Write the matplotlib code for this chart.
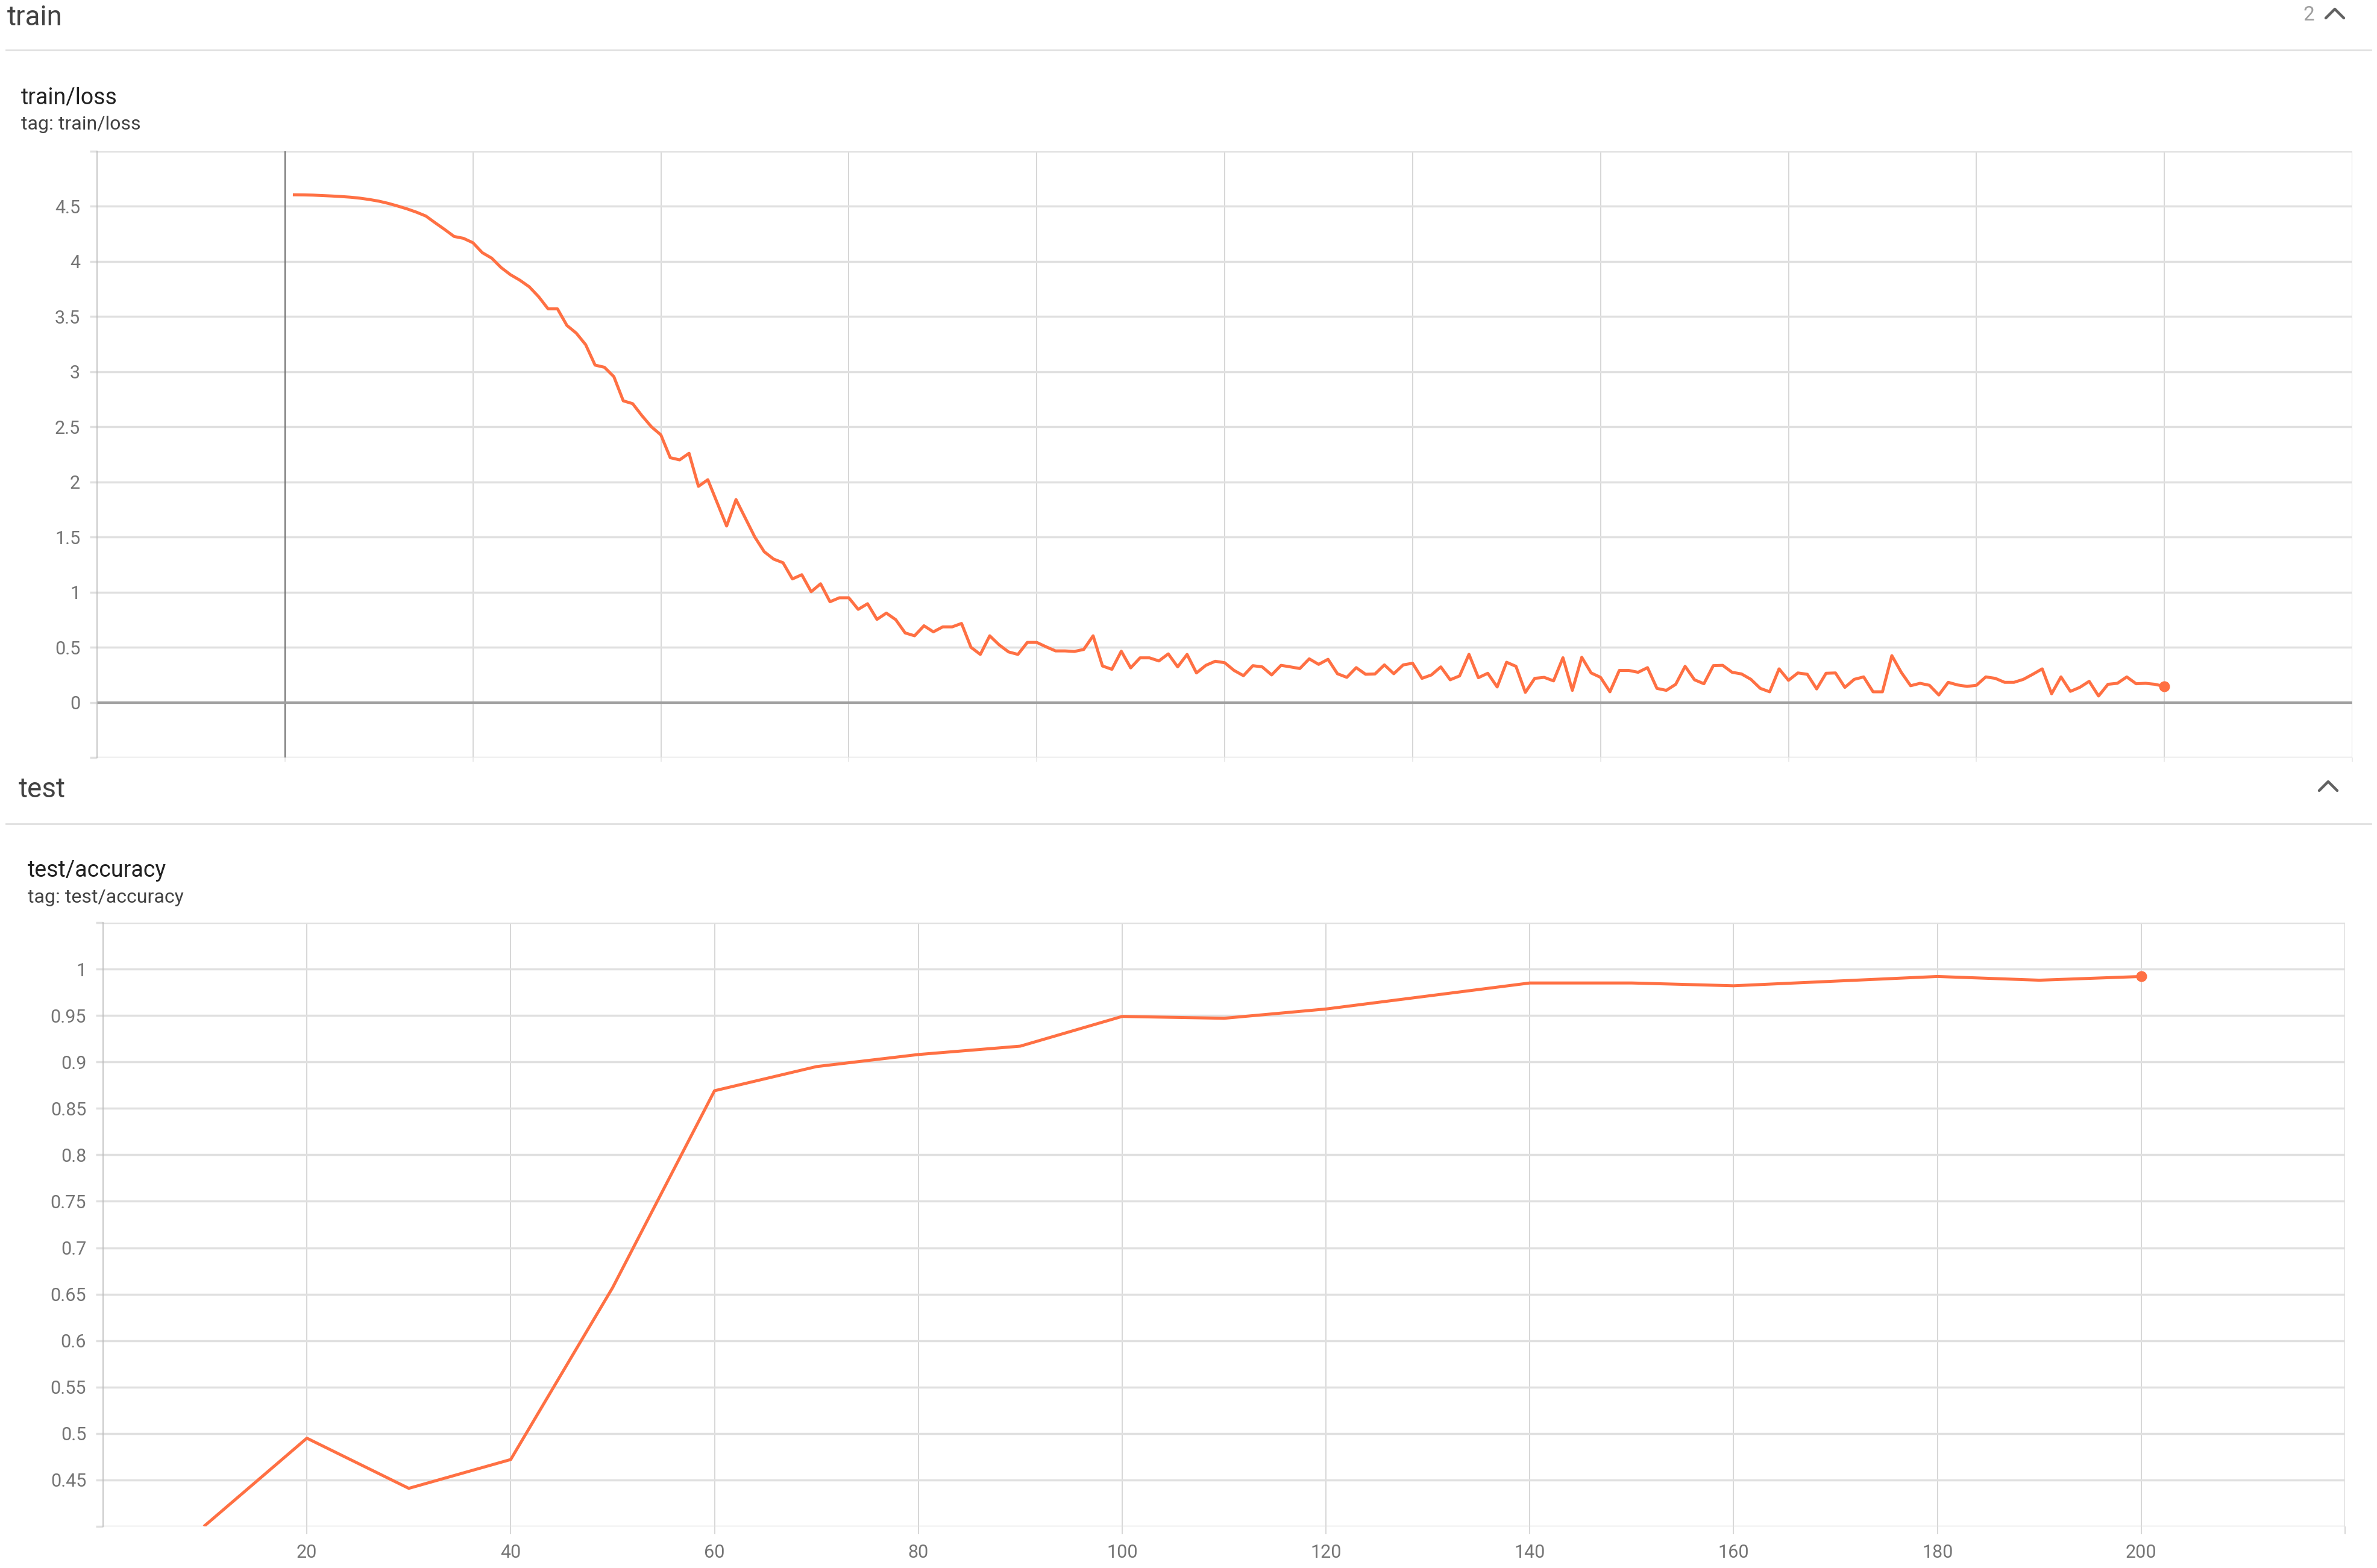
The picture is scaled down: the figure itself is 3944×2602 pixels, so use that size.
import matplotlib
matplotlib.use("Agg")
import matplotlib.pyplot as plt
from matplotlib.lines import Line2D

plt.rcParams["font.family"] = ["Roboto", "DejaVu Sans"]

W, H = 3944, 2602

# train/loss, one value per step (1..200)
LOSS_STEPS = list(range(1, 201))
LOSS = [
    4.605, 4.604, 4.602, 4.598, 4.594, 4.589, 4.583, 4.574, 4.562, 4.547,
    4.527, 4.503, 4.477, 4.447, 4.412, 4.350, 4.290, 4.227, 4.210, 4.170,
    4.080, 4.030, 3.945, 3.880, 3.830, 3.770, 3.680, 3.570, 3.570, 3.420,
    3.350, 3.245, 3.060, 3.040, 2.955, 2.736, 2.710, 2.600, 2.500, 2.427,
    2.220, 2.200, 2.260, 1.960, 2.020, 1.810, 1.600, 1.840, 1.670, 1.500,
    1.367, 1.300, 1.267, 1.120, 1.158, 1.004, 1.076, 0.913, 0.949, 0.949,
    0.844, 0.895, 0.753, 0.810, 0.750, 0.630, 0.604, 0.695, 0.640, 0.685,
    0.685, 0.716, 0.500, 0.435, 0.604, 0.522, 0.458, 0.435, 0.544, 0.544,
    0.504, 0.467, 0.467, 0.462, 0.480, 0.604, 0.330, 0.300, 0.464, 0.313,
    0.404, 0.404, 0.376, 0.440, 0.322, 0.435, 0.267, 0.336, 0.373, 0.360,
    0.290, 0.242, 0.333, 0.322, 0.249, 0.336, 0.322, 0.307, 0.395, 0.345,
    0.391, 0.260, 0.227, 0.315, 0.255, 0.258, 0.340, 0.260, 0.340, 0.355,
    0.218, 0.249, 0.322, 0.205, 0.240, 0.436, 0.224, 0.264, 0.140, 0.364,
    0.327, 0.091, 0.218, 0.227, 0.195, 0.405, 0.109, 0.409, 0.267, 0.227,
    0.096, 0.290, 0.290, 0.273, 0.315, 0.127, 0.109, 0.164, 0.327, 0.205,
    0.169, 0.333, 0.336, 0.273, 0.258, 0.209, 0.127, 0.096, 0.304, 0.200,
    0.267, 0.255, 0.122, 0.264, 0.267, 0.136, 0.209, 0.231, 0.096, 0.096,
    0.424, 0.273, 0.151, 0.173, 0.155, 0.067, 0.182, 0.158, 0.145, 0.155,
    0.231, 0.218, 0.182, 0.182, 0.209, 0.255, 0.304, 0.078, 0.231, 0.100,
    0.136, 0.191, 0.058, 0.164, 0.173, 0.231, 0.169, 0.173, 0.164, 0.145,
]

# test/accuracy, every 10 steps
ACC_STEPS = list(range(10, 201, 10))
ACC = [0.401, 0.495, 0.441, 0.472, 0.657, 0.869, 0.895, 0.908, 0.917, 0.949,
       0.947, 0.957, 0.971, 0.985, 0.985, 0.982, 0.987, 0.992, 0.988, 0.992]

LOSS_YTICKS = [-0.5, 0, 0.5, 1, 1.5, 2, 2.5, 3, 3.5, 4, 4.5, 5]
LOSS_YLABELS = ["", "0", "0.5", "1", "1.5", "2", "2.5", "3", "3.5", "4", "4.5", ""]
ACC_YTICKS = [0.40, 0.45, 0.50, 0.55, 0.60, 0.65, 0.70, 0.75, 0.80, 0.85, 0.90, 0.95, 1.0, 1.05]
ACC_YLABELS = ["", "0.45", "0.5", "0.55", "0.6", "0.65", "0.7", "0.75", "0.8",
               "0.85", "0.9", "0.95", "1", ""]
ACC_XTICKS = list(range(20, 221, 20))
ACC_XLABELS = [str(v) for v in range(20, 201, 20)] + [""]

ORANGE = "#ff7043"
HGRID = "#e0e0e0"
VGRID = "#cfcfcf"


def px_axes(fig, left, top, right, bottom):
    return fig.add_axes([left / W, 1 - bottom / H, (right - left) / W, (bottom - top) / H])


def style(ax):
    ax.set_axisbelow(True)
    ax.grid(axis="y", color=HGRID, lw=2.5)
    ax.grid(axis="x", color=VGRID, lw=1.2)
    for s in ("top", "right", "bottom"):
        ax.spines[s].set_visible(False)
    ax.spines["left"].set_color("#bdbdbd")
    ax.spines["left"].set_linewidth(1.2)
    ax.tick_params(axis="y", length=9, width=2.5, color=HGRID, pad=11,
                   labelsize=22, labelcolor="#757575")
    ax.tick_params(axis="x", length=9, width=1.2, color=VGRID, pad=12,
                   labelsize=22, labelcolor="#757575")


def ftext(fig, x, y, s, **kw):
    fig.text(x / W, 1 - y / H, s, **kw)


def hline(fig, x0, x1, y, **kw):
    fig.add_artist(Line2D([x0 / W, x1 / W], [1 - y / H] * 2, transform=fig.transFigure, **kw))


def chevron(fig, cx, cy):
    xs = [(cx - 15) / W, cx / W, (cx + 15) / W]
    ys = [1 - (cy + 7) / H, 1 - (cy - 8) / H, 1 - (cy + 7) / H]
    fig.add_artist(Line2D(xs, ys, transform=fig.transFigure, color="#616161", lw=3.2,
                          solid_capstyle="round", solid_joinstyle="round"))


fig = plt.figure(figsize=(W / 100, H / 100), dpi=100)

# --- section headers
ftext(fig, 12, 42, "train", fontsize=33, color="#424242", va="baseline")
hline(fig, 10, 3934, 83, color=HGRID, lw=2)
ftext(fig, 3831, 25, "2", fontsize=24, color="#9e9e9e", ha="center", va="center")
chevron(fig, 3874, 23)

ftext(fig, 35, 173, "train/loss", fontsize=27, color="#212121", va="baseline")
ftext(fig, 35, 215, "tag: train/loss", fontsize=23, color="#424242", va="baseline")

ftext(fig, 31, 1323, "test", fontsize=33, color="#424242", va="baseline")
hline(fig, 10, 3934, 1367, color=HGRID, lw=2)
chevron(fig, 3863, 1305)

ftext(fig, 46, 1455, "test/accuracy", fontsize=27, color="#212121", va="baseline")
ftext(fig, 46, 1498, "tag: test/accuracy", fontsize=23, color="#424242", va="baseline")

# --- train/loss
ax1 = px_axes(fig, 161, 251, 3903, 1257)
style(ax1)
ax1.set_xlim(-20, 220)
ax1.set_ylim(-0.5, 5.0)
ax1.set_xticks(list(range(0, 221, 20)))
ax1.set_xticklabels([])
ax1.tick_params(axis="x", length=5, color="#e6e6e6")
ax1.set_yticks(LOSS_YTICKS)
ax1.set_yticklabels(LOSS_YLABELS)
ax1.axvline(0, color="#757575", lw=1.6, zorder=1.5)
ax1.axhline(0, color="#a0a0a0", lw=3, zorder=1.5)
ax1.plot(LOSS_STEPS, LOSS, color=ORANGE, lw=3.6, zorder=3)
ax1.plot(LOSS_STEPS[-1], LOSS[-1], "o", color=ORANGE, ms=12, zorder=4)

# --- test/accuracy
ax2 = px_axes(fig, 171, 1531, 3891, 2533)
style(ax2)
ax2.set_xlim(0, 220)
ax2.set_ylim(0.40, 1.05)
ax2.set_xticks(ACC_XTICKS)
ax2.set_xticklabels(ACC_XLABELS)
ax2.set_yticks(ACC_YTICKS)
ax2.set_yticklabels(ACC_YLABELS)
ax2.plot(ACC_STEPS, ACC, color=ORANGE, lw=3.6, zorder=3)
ax2.plot(ACC_STEPS[-1], ACC[-1], "o", color=ORANGE, ms=12, zorder=4)

fig.savefig("out.png", dpi=100)
